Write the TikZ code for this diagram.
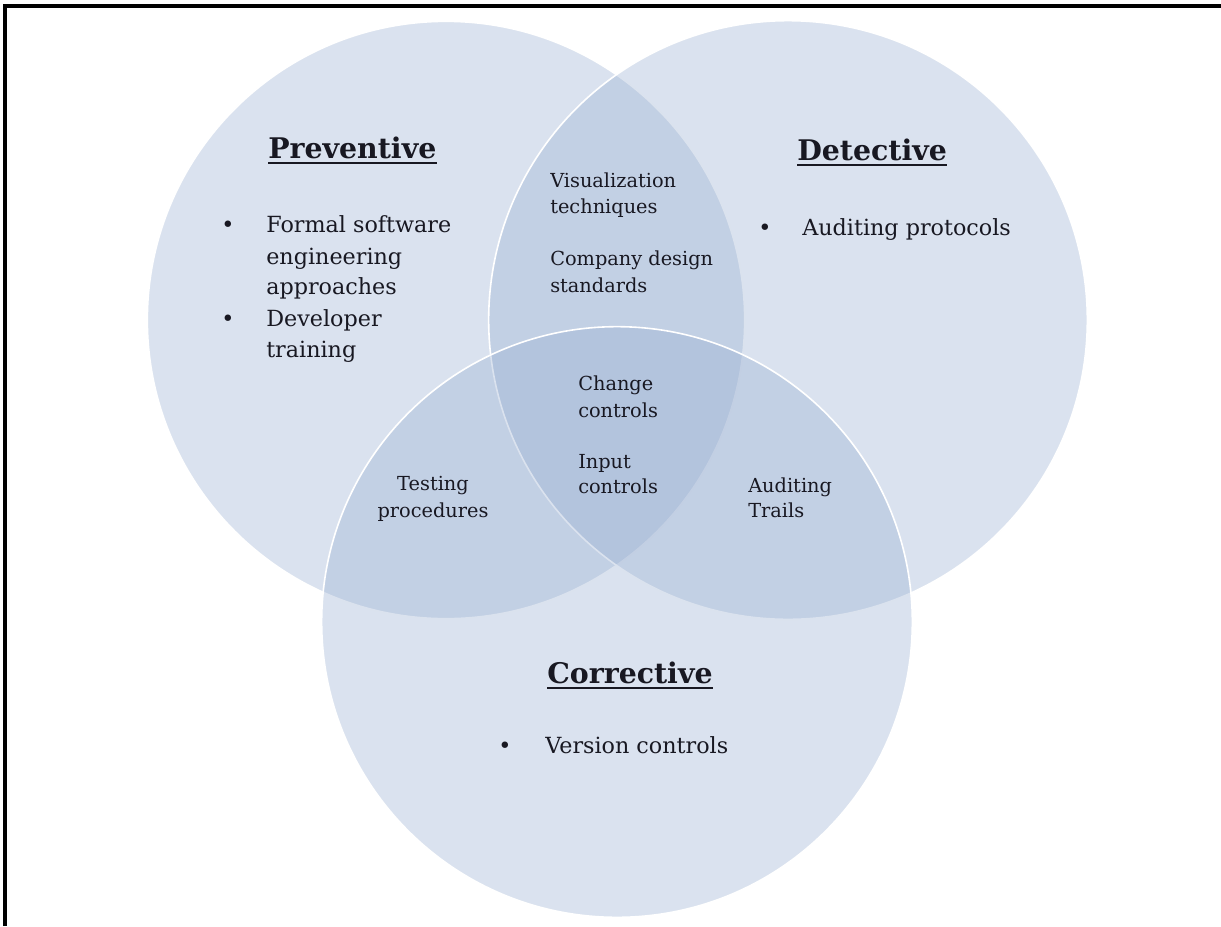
\documentclass[tikz,border=0pt]{standalone}
\usepackage{fontspec}
\setmainfont{DejaVu Serif}
\definecolor{vennfill}{RGB}{150,173,208}
\definecolor{textc}{RGB}{24,24,34}
\tikzset{
  x=0.75pt, y=-0.75pt,
  venn/.style={fill=vennfill, fill opacity=0.35, draw=white, draw opacity=1, line width=1.2pt},
  heading/.style={anchor=base west, inner sep=0pt, text=textc, font=\fontsize{21.3}{25}\selectfont\bfseries},
  body/.style={anchor=base west, inner sep=0pt, text=textc, font=\fontsize{16.7}{20}\selectfont},
  inner/.style={anchor=base west, inner sep=0pt, text=textc, font=\fontsize{14.5}{17}\selectfont},
  innerc/.style={anchor=base, inner sep=0pt, text=textc, font=\fontsize{14.5}{17}\selectfont},
  bul/.style={anchor=base, inner sep=0pt, text=textc, font=\fontsize{16.7}{20}\selectfont},
  uline/.style={line width=1.7pt, draw=textc},
  frame/.style={line width=2.3pt, draw=black}
}
\begin{document}
\begin{tikzpicture}
\useasboundingbox (0,0) rectangle (1221,926);
% frame
\coordinate (f1) at (5,926);
\coordinate (f2) at (5,6);
\coordinate (f3) at (1221,6);
\draw[frame] (f1) -- (f2) -- (f3);
% circles
\coordinate (cp) at (446,320);
\coordinate (cd) at (788,320);
\coordinate (cc) at (617,622);
\path[venn] (cp) circle[radius=224pt];
\path[venn] (cd) circle[radius=224.5pt];
\path[venn] (cc) circle[radius=221.5pt];
% Preventive
\node[heading] (hp) at (268,158) {Preventive};
\draw[uline] ([yshift=-3.8pt]hp.base west) -- ([yshift=-3.8pt]hp.base east);
\node[bul] (bp1) at (228,232) {\textbullet};
\node[body] (p1) at (266,232) {Formal software};
\node[body] (p2) at (266,264) {engineering};
\node[body] (p3) at (266,294) {approaches};
\node[bul] (bp2) at (228,326) {\textbullet};
\node[body] (p4) at (266,326) {Developer};
\node[body] (p5) at (266,357) {training};
% Detective
\node[heading] (hd) at (797,160) {Detective};
\draw[uline] ([yshift=-3.8pt]hd.base west) -- ([yshift=-3.8pt]hd.base east);
\node[bul] (bd1) at (765,235) {\textbullet};
\node[body] (d1) at (802,235) {Auditing protocols};
% Preventive & Detective
\node[inner] (v1) at (550,187) {Visualization};
\node[inner] (v2) at (550,213) {techniques};
\node[inner] (v3) at (550,265) {Company design};
\node[inner] (v4) at (550,292) {standards};
% center
\node[inner] (c1) at (578,390) {Change};
\node[inner] (c2) at (578,417) {controls};
\node[inner] (c3) at (578,468) {Input};
\node[inner] (c4) at (578,493) {controls};
% Preventive & Corrective
\node[innerc] (t1) at (433,490) {Testing};
\node[innerc] (t2) at (433,517) {procedures};
% Detective & Corrective
\node[inner] (a1) at (748,492) {Auditing};
\node[inner] (a2) at (748,517) {Trails};
% Corrective
\node[heading] (hc) at (547,683) {Corrective};
\draw[uline] ([yshift=-3.8pt]hc.base west) -- ([yshift=-3.8pt]hc.base east);
\node[bul] (bc1) at (505,753) {\textbullet};
\node[body] (k1) at (545,753) {Version controls};
\end{tikzpicture}
\end{document}
